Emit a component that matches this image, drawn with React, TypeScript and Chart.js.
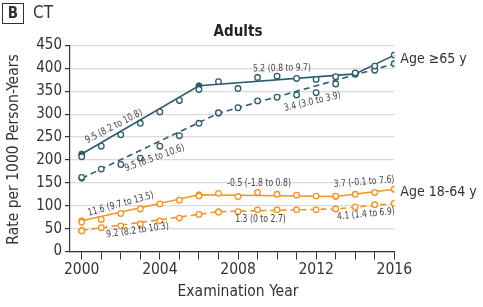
import React, { useEffect, useRef } from 'react';
import { Chart, registerables } from 'chart.js';

Chart.register(...registerables);

// ---- data ----
const years = [2000, 2001, 2002, 2003, 2004, 2005, 2006, 2007, 2008, 2009, 2010, 2011, 2012, 2013, 2014, 2015, 2016];
const xTickLabels = [2000, 2004, 2008, 2012, 2016];
const yTickValues = [0, 50, 100, 150, 200, 250, 300, 350, 400, 450];

// observed rates, age >=65
const solid65 = [207, 230, 255, 280, 305, 330, 354, 371, 356, 380, 383, 378, 376, 382, 390, 405, 429];
const dashed65 = [162, 180, 190, 204, 230, 253, 280, 303, 314, 329, 337, 342, 347, 366, 387, 396, 410];
// observed rates, age 18-64
const solid1864 = [64, 70, 83, 93, 104, 112, 121, 127, 120, 129, 125, 123, 121, 121, 125, 129, 136];
const dashed1864 = [45, 52, 56, 60, 67, 73, 81, 86, 87, 91, 91, 91, 91, 93, 97, 102, 105];

// fitted joinpoint segments
const fitSolid65Years = [2000, 2006, 2014, 2016];
const fitSolid65Values = [213, 362, 388, 429];
const fitDashed65Years = [2000, 2007, 2016];
const fitDashed65Values = [160, 302, 410];
const fitSolid1864Years = [2000, 2006, 2013, 2016];
const fitSolid1864Values = [67, 124, 120, 136];
const fitDashed1864Years = [2000, 2007, 2013, 2016];
const fitDashed1864Values = [46, 87, 93, 105];

// annual percent change labels (text, year, rate, angle)
const apcTexts = ['9.5 (8.2 to 10.8)', '9.5 (8.5 to 10.6)', '5.2 (0.8 to 9.7)', '3.4 (3.0 to 3.9)', '11.6 (9.7 to 13.5)', '9.2 (8.2 to 10.3)', '-0.5 (-1.8 to 0.8)', '1.3 (0 to 2.7)', '3.7 (-0.1 to 7.6)', '4.1 (1.4 to 6.9)'];
const apcYears = [2001.65, 2003.73, 2010.25, 2011.81, 2002.0, 2002.86, 2009.08, 2009.15, 2014.45, 2014.55];
const apcRates = [273, 204, 400, 327, 103.5, 46, 148, 69.2, 151.8, 81.5];
const apcAngles = [-27.5, -20, -1, -13.5, -15.5, -8, 0, 0, -4.5, -5.5];

const groupLabels = ['Age \u226565 y', 'Age 18-64 y'];
const groupLabelRates = [420, 129];

const TEAL = '#2c5d6b';
const ORANGE = '#f5931f';
const TEXT = '#333333';
const FONT = "'DejaVu Sans Condensed', 'Liberation Sans', sans-serif";

const pts = (xs: number[], ys: number[]) => xs.map((x, i) => ({ x, y: ys[i] }));

const fitDs = (xs: number[], ys: number[], color: string, dashed: boolean) => ({
  type: 'line' as const,
  data: pts(xs, ys),
  borderColor: color,
  backgroundColor: color,
  borderWidth: 1.6,
  borderDash: dashed ? [6, 4] : [],
  pointRadius: 3,
  pointBackgroundColor: color,
  pointBorderColor: color,
  pointBorderWidth: 1,
  tension: 0,
  order: 2,
});

const obsDs = (ys: number[], color: string) => ({
  type: 'line' as const,
  data: pts(years, ys),
  showLine: false,
  borderColor: color,
  backgroundColor: '#ffffff',
  pointRadius: 2.8,
  pointBackgroundColor: '#ffffff',
  pointBorderColor: color,
  pointBorderWidth: 1.3,
  order: 1,
});

const textPlugin = {
  id: 'textPlugin',
  afterDraw(chart: any) {
    const ctx = chart.ctx as CanvasRenderingContext2D;
    const xs = chart.scales.x;
    const ys = chart.scales.y;
    const area = chart.chartArea;
    ctx.save();
    // panel box "B"
    ctx.strokeStyle = '#333';
    ctx.lineWidth = 1;
    ctx.strokeRect(2.5, 3.5, 21, 20);
    ctx.fillStyle = TEXT;
    ctx.textAlign = 'center';
    ctx.textBaseline = 'middle';
    ctx.font = `bold 15px ${FONT}`;
    ctx.fillText('B', 13, 14);
    ctx.textAlign = 'left';
    ctx.font = `17px ${FONT}`;
    ctx.fillText('CT', 33, 14);
    // title
    ctx.textAlign = 'center';
    ctx.font = `bold 15px ${FONT}`;
    ctx.fillStyle = '#222';
    ctx.fillText('Adults', 238, 32);
    // axis titles
    ctx.fillStyle = TEXT;
    ctx.font = `15.5px ${FONT}`;
    ctx.fillText('Examination Year', 238, 292);
    ctx.save();
    ctx.translate(14, (area.top + area.bottom) / 2 + 1);
    ctx.rotate(-Math.PI / 2);
    ctx.fillText('Rate per 1000 Person-Years', 0, 0);
    ctx.restore();
    // group labels
    ctx.textAlign = 'left';
    ctx.font = `14px ${FONT}`;
    groupLabels.forEach((t, i) => {
      ctx.fillText(t, area.right + 6, ys.getPixelForValue(groupLabelRates[i]));
    });
    // APC labels
    ctx.fillStyle = '#444';
    ctx.font = `10px ${FONT}`;
    ctx.textAlign = 'center';
    apcTexts.forEach((t, i) => {
      ctx.save();
      ctx.translate(xs.getPixelForValue(apcYears[i]), ys.getPixelForValue(apcRates[i]));
      ctx.rotate((apcAngles[i] * Math.PI) / 180);
      ctx.scale(0.86, 1);
      ctx.fillText(t, 0, 0);
      ctx.restore();
    });
    ctx.restore();
  },
};

export default function App() {
  const ref = useRef<HTMLCanvasElement>(null);
  useEffect(() => {
    document.body.style.margin = '0';
    const canvas = ref.current!;
    const chart = new Chart(canvas, {
      type: 'line',
      data: {
        datasets: [
          fitDs(fitSolid65Years, fitSolid65Values, TEAL, false),
          fitDs(fitDashed65Years, fitDashed65Values, TEAL, true),
          fitDs(fitSolid1864Years, fitSolid1864Values, ORANGE, false),
          fitDs(fitDashed1864Years, fitDashed1864Values, ORANGE, true),
          obsDs(solid65, TEAL),
          obsDs(dashed65, TEAL),
          obsDs(solid1864, ORANGE),
          obsDs(dashed1864, ORANGE),
        ] as any,
      },
      options: {
        responsive: false,
        animation: false,
        layout: { padding: { top: 45.5, right: 88.7, left: 0, bottom: 0 } },
        plugins: { legend: { display: false }, tooltip: { enabled: false }, title: { display: false } },
        scales: {
          x: {
            type: 'linear',
            min: 1999.4,
            max: 2016,
            afterBuildTicks: (axis: any) => {
              axis.ticks = years.map((v) => ({ value: v }));
            },
            afterFit: (scale: any) => {
              scale.height = 55.5;
            },
            grid: { drawOnChartArea: false, drawTicks: true, tickLength: 8, tickColor: '#333', tickWidth: 1 },
            border: { display: true, color: '#333', width: 1.2 },
            ticks: {
              autoSkip: false,
              maxRotation: 0,
              padding: 1,
              color: TEXT,
              font: { size: 15.5, family: FONT },
              callback: (v: any) => (xTickLabels.includes(Number(v)) ? String(v) : ''),
            },
          },
          y: {
            type: 'linear',
            min: 0,
            max: 450,
            afterBuildTicks: (axis: any) => {
              axis.ticks = yTickValues.map((v) => ({ value: v }));
            },
            afterFit: (scale: any) => {
              scale.width = 70;
            },
            grid: { color: '#dadada', lineWidth: 1.2, drawTicks: true, tickLength: 5, tickColor: '#333' },
            border: { display: true, color: '#333', width: 1.2 },
            ticks: {
              autoSkip: false,
              padding: 3,
              color: TEXT,
              font: { size: 15, family: FONT },
            },
          },
        },
      } as any,
      plugins: [textPlugin],
    });
    return () => chart.destroy();
  }, []);
  return <canvas ref={ref} width={483} height={307} style={{ display: 'block' }} />;
}
